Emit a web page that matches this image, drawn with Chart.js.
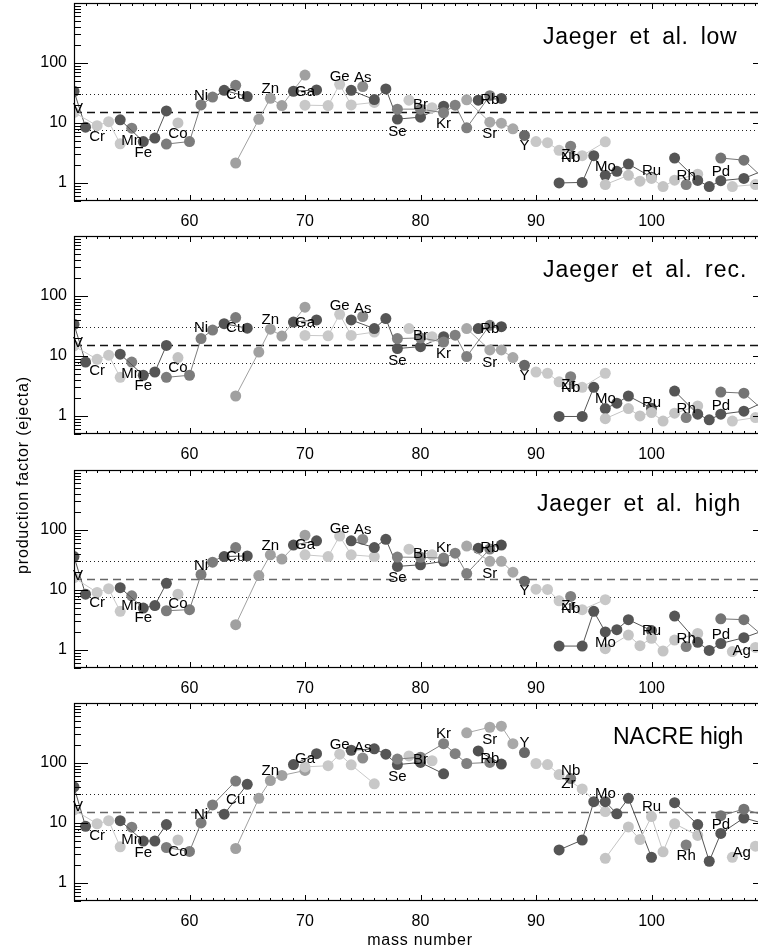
<!DOCTYPE html>
<html>
<head>
<meta charset="utf-8">
<script src="https://cdn.jsdelivr.net/npm/chart.js@4.4.1/dist/chart.umd.min.js"></script>
<style>
html, body { margin: 0; padding: 0; background: #fff; }
#wrap { position: relative; width: 758px; height: 952px; overflow: hidden; background: #fff; }
.panel { position: absolute; left: 0; width: 780px; height: 240px; }
#ytitle { position: absolute; left: -127px; top: 466px; width: 300px; text-align: center;
  transform: rotate(-90deg); font: 16px 'Liberation Sans', Arial, sans-serif; letter-spacing: 0.8px; color: #000; }
#xtitle { position: absolute; left: 320px; top: 931px; width: 200px; text-align: center;
  font: 16px 'Liberation Sans', Arial, sans-serif; letter-spacing: 0.8px; color: #000; }
</style>
</head>
<body>
<div id="wrap">
	<canvas id="p0" class="panel" width="780" height="240"></canvas>
	<canvas id="p1" class="panel" width="780" height="240"></canvas>
	<canvas id="p2" class="panel" width="780" height="240"></canvas>
	<canvas id="p3" class="panel" width="780" height="240"></canvas>
	<div id="ytitle">production factor (ejecta)</div>
	<div id="xtitle">mass number</div>
</div>
<script>
// elements and their isotopes (mass numbers)
const elementNames = ['V','Cr','Mn','Fe','Co','Ni','Cu','Zn','Ga','Ge','As','Se','Br','Kr','Rb','Sr','Y','Zr','Nb','Mo','Ru','Rh','Pd','Ag','Cd'];
const isotopeMasses = [[50,51],[50,52,53,54],[55],[54,56,57,58],[59],[58,60,61,62,64],[63,65],[64,66,67,68,70],[69,71],
	[70,72,73,74,76],[75],[74,76,77,78,80,82],[79,81],[78,80,82,83,84,86],[85,87],[84,86,87,88],[89],[90,91,92,94,96],[93],
	[92,94,95,96,97,98,100],[96,98,99,100,101,102,104],[103],[102,104,105,106,108,110],[107,109],[106,108,110]];
const elementGrays = ['#565656','#c8c8c8','#808080','#555555','#c2c2c2','#7c7c7c','#555555','#a0a0a0','#555555','#c8c8c8','#8c8c8c','#555555',
	'#c8c8c8','#808080','#505050','#a8a8a8','#686868','#c8c8c8','#808080','#555555','#c4c4c4','#808080','#555555','#c8c8c8','#747474'];

// production factors, one list per element (same order as isotopeMasses)
const jaegerLow = [[33.8,8.5],[15,9.0,10.5,4.5],[8.2],[11.3,4.9,5.6,15.9],[10],[4.45,4.9,20,27,42.5],[35,27.5],[2.15,11.5,25.8,19.5,63],[33.8,35.5],
	[19.8,19.5,44,20,22],[40.5],[35,24.5,37,11.6,12.5,19],[24,18],[17,17,14.8,19.8,8.3,28.5],[24,25.6],[24.3,10.3,9.9,8.0],[6.2],[4.9,4.7,3.5,2.85,4.85],[4.1],
	[1.0,1.02,2.85,1.34,1.56,2.07,1.25],[0.94,1.34,1.07,1.19,0.87,1.11,1.4],[0.94],[2.6,1.1,0.87,1.09,1.19,1.7],[0.87,0.94],[2.6,2.4,1.05]];
const jaegerRec = [[33.8,7.9],[14.7,8.8,10.3,4.4],[7.9],[10.7,4.77,5.4,15],[9.4],[4.4,4.77,19.5,27,43.6],[34.6,29],[2.15,11.6,27.9,21.5,65],[36.8,39.8],
	[22,21.7,49.5,22,25],[45.5],[39.8,28.6,42,13.3,14.3,21],[28.6,21],[19.5,20,17.1,22.2,9.8,32.4],[28.6,30.8],[28.6,12.6,12.6,9.4],[7.0],[5.4,5.15,3.7,3.0,5.15],[4.5],
	[0.98,0.98,3.0,1.33,1.63,2.15,1.35],[0.9,1.33,1.0,1.14,0.82,1.11,1.47],[0.94],[2.6,1.07,0.86,1.07,1.2,1.8],[0.82,0.94],[2.5,2.4,1.1]];
const jaegerHigh = [[36,8.5],[16,9.1,10.5,4.4],[8.0],[10.9,5.0,5.5,12.9],[8.5],[4.5,4.7,18.1,29,51],[36,37],[2.64,17.4,38.5,32.7,81.7],[56,66],
	[38.5,36,79.4,38.5,36],[69.7],[66,51,70,24.7,26.3,30],[47.8,38.5],[35.3,35,34,41,18.8,48],[49.5,56],[54,30,30,19.8],[14],[10.3,10.2,6.6,4.7,6.9],[7.8],
	[1.16,1.16,4.4,2.0,2.18,3.2,2.1],[1.05,1.77,1.18,1.56,0.96,1.46,1.88],[1.14],[3.67,1.34,0.98,1.28,1.6,2.2],[0.94,1.1],[3.3,3.2,1.5]];
const nacreHigh = [[39.8,8.8],[16.5,9.7,10.9,4.0],[8.5],[10.9,5.0,5.0,9.4],[5.2],[3.9,3.35,10,20,50],[14.0,44],[3.75,25.7,51,62,75],[94,143],
	[86,90,140,93,45],[121],[163,172,140,94,102,66],[131,109],[116,125,210,143,98,102],[159,96],[318,394,410,210],[149],[98,94,64,37,15.5],[55],
	[3.55,5.2,22.6,22.6,14.2,25.7,2.67],[2.57,8.6,5.3,12.8,3.3,9.7,6.2],[4.3],[21.8,9.4,2.3,6.7,12.1,9.5],[2.67,4.1],[13.2,17,13]];

// element name labels: mass position and height in each panel (null = not shown)
const labelNames = ['V','Cr','Mn','Fe','Co','Ni','Cu','Zn','Ga','Ge','As','Se','Br','Kr','Rb','Sr','Y','Zr','Nb','Mo','Ru','Rh','Pd','Ag'];
const labelMasses = [50.35,52,55,56,59,61,64,67,70,73,75,78,80,82,86,86,89,92.8,93,96,100,103,106,107.8];
const labelLow = [17,5.9,5.0,3.19,6.6,27.9,29,36.4,32.5,59.8,55.5,7.1,19.8,9.6,24,6.6,4.2,2.96,2.6,1.87,1.6,1.33,1.55,null];
const labelRec = [16.7,5.6,4.95,3.16,6.4,29,29.8,39.8,36,68,61.6,8.3,22,11,27.8,7.75,4.6,3.25,2.9,1.9,1.67,1.33,1.5,null];
const labelHigh = [16.9,6.05,5.35,3.4,5.8,25.4,35.3,54,56,105,99,16,40,49.5,49.5,18.8,9.6,5.35,4.8,1.3,2.1,1.55,1.8,0.96];
const labelNacre = [18.7,6.2,5.3,3.2,3.3,13.7,24,75,116,204,176,59.7,112,304,116,247,218,45,75,31,18.7,2.85,9.4,3.2];

const panelTitles = ['Jaeger et al. low', 'Jaeger et al. rec.', 'Jaeger et al. high', 'NACRE high'];
const refLevels = [30, 15, 7.5];  // 2x, 1x, 1/2 of the mean
const xRange = [50, 110];
const yRange = [0.5, 1000];

const panelValues = [jaegerLow, jaegerRec, jaegerHigh, nacreHigh];
const panelLabels = [labelLow, labelRec, labelHigh, labelNacre];
const panelTop = [2.5, 236, 469.5, 703];
const titleLeft = [543, 543, 537, 613];
const titleSpacing = [0.7, 1.0, 0.7, 0];
const dashColor = ['#111', '#111', '#666', '#666'];

Chart.defaults.font.family = "'Liberation Sans', Arial, sans-serif";
Chart.defaults.color = '#000';

const framePlugin = {
	id: 'frame',
	beforeDatasetsDraw(chart, args, opts) {
		const ctx = chart.ctx;
		const a = chart.chartArea;
		const ys = chart.scales.y;
		ctx.save();
		refLevels.forEach(function(v, i) {
			const py = Math.round(ys.getPixelForValue(v)) + 0.5;
			ctx.beginPath();
			if (i === 1) {
				ctx.setLineDash([8, 5]);
				ctx.strokeStyle = opts.dash;
				ctx.lineWidth = 1.3;
			} else {
				ctx.setLineDash([1, 3]);
				ctx.strokeStyle = '#222';
				ctx.lineWidth = 1;
			}
			ctx.moveTo(a.left, py);
			ctx.lineTo(a.right, py);
			ctx.stroke();
		});
		ctx.restore();
	},
	afterDraw(chart, args, opts) {
		const ctx = chart.ctx;
		const a = chart.chartArea;
		const xs = chart.scales.x;
		const ys = chart.scales.y;
		ctx.save();
		ctx.strokeStyle = '#000';
		ctx.lineWidth = 1.2;
		ctx.strokeRect(a.left + 0.5, a.top + 0.5, a.right - a.left - 1, a.bottom - a.top - 1);
		ctx.lineWidth = 1;
		ctx.beginPath();
		for (let m = xRange[0]; m <= xRange[1]; m++) {
			const px = Math.round(xs.getPixelForValue(m)) + 0.5;
			const len = (m % 10 === 0) ? 6 : 3;
			ctx.moveTo(px, a.bottom); ctx.lineTo(px, a.bottom - len);
			ctx.moveTo(px, a.top); ctx.lineTo(px, a.top + len);
		}
		for (let k = -1; k <= 3; k++) {
			for (let d = 1; d <= 9; d++) {
				const v = d * Math.pow(10, k);
				if (v < yRange[0] - 1e-9 || v > yRange[1] + 1e-9) continue;
				const py = Math.round(ys.getPixelForValue(v)) + 0.5;
				const len = (d === 1) ? 14 : 7;
				ctx.moveTo(a.left, py); ctx.lineTo(a.left + len, py);
				ctx.moveTo(a.right, py); ctx.lineTo(a.right - len, py);
			}
		}
		ctx.stroke();
		// element names
		ctx.fillStyle = '#000';
		ctx.font = "15px 'Liberation Sans', Arial, sans-serif";
		ctx.textAlign = 'center';
		ctx.textBaseline = 'middle';
		opts.labels.forEach(function(v, i) {
			if (v === null) return;
			ctx.fillText(labelNames[i], xs.getPixelForValue(labelMasses[i]), ys.getPixelForValue(v));
		});
		// panel title
		ctx.font = "23px 'Liberation Sans', Arial, sans-serif";
		ctx.textAlign = 'left';
		ctx.letterSpacing = opts.spacing + 'px';
		ctx.wordSpacing = (opts.spacing > 0 ? 5 : 0) + 'px';
		ctx.fillText(opts.title, opts.titleX, a.top + 35);
		ctx.restore();
	}
};

function makePanel(idx) {
	const canvas = document.getElementById('p' + idx);
	canvas.style.top = (panelTop[idx] - 6) + 'px';
	const values = panelValues[idx];
	const datasets = elementNames.map(function(name, i) {
		return {
			label: name,
			data: isotopeMasses[i].map(function(m, j) { return {x: m, y: values[i][j]}; }),
			showLine: true,
			borderColor: elementGrays[i],
			backgroundColor: elementGrays[i],
			borderWidth: 1,
			pointRadius: 5.5,
			pointBorderWidth: 0,
			order: -i
		};
	});
	return new Chart(canvas, {
		type: 'scatter',
		data: {datasets: datasets},
		options: {
			responsive: false,
			animation: false,
			events: [],
			layout: {padding: {top: 6, right: 13, left: 0, bottom: 0}},
			plugins: {
				legend: {display: false},
				tooltip: {enabled: false},
				frame: {labels: panelLabels[idx], title: panelTitles[idx], titleX: titleLeft[idx],
					spacing: titleSpacing[idx], dash: dashColor[idx]}
			},
			scales: {
				x: {
					type: 'linear', min: xRange[0], max: xRange[1],
					grid: {display: false, drawTicks: false},
					border: {display: false},
					ticks: {
						stepSize: 10, autoSkip: false, maxRotation: 0, padding: 11,
						font: {size: 16},
						callback: function(v) { return (v > xRange[0] && v < xRange[1]) ? String(v) : ''; }
					},
					afterFit: function(scale) {
						scale.height = 36;
						scale.paddingLeft = 0;
						scale.paddingRight = 0;
					}
				},
				y: {
					type: 'logarithmic', min: yRange[0], max: yRange[1],
					grid: {display: false, drawTicks: false},
					border: {display: false},
					ticks: {
						autoSkip: false, padding: 7,
						font: {size: 16},
						callback: function(v) {
							const s = [1, 10, 100].find(function(t) { return Math.abs(v - t) < 1e-6 * t; });
							return s ? String(s) : '';
						}
					},
					afterFit: function(scale) {
						scale.width = 74;
						scale.paddingTop = 0;
						scale.paddingBottom = 0;
					}
				}
			}
		},
		plugins: [framePlugin]
	});
}

[0, 1, 2, 3].forEach(makePanel);
</script>
</body>
</html>
